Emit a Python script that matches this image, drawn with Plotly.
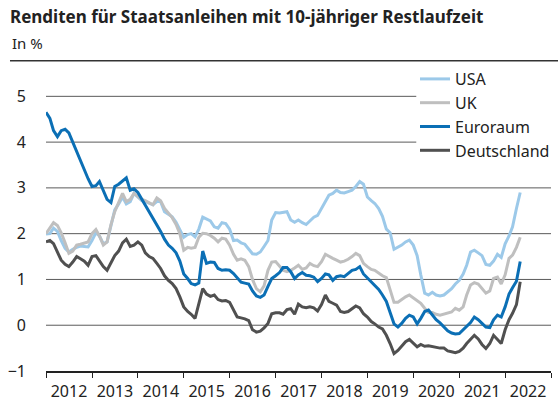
import pandas as pd
import plotly.graph_objects as go

# Monthly yields, Jan 2012 - May 2022 (in %)
months = pd.date_range("2012-01-01", periods=125, freq="MS")

usa = [1.99, 2.00, 2.12, 2.05, 1.85, 1.68, 1.60, 1.66, 1.70, 1.73, 1.72, 1.71,
       1.85, 2.02, 1.95, 1.78, 1.82, 2.20, 2.52, 2.65, 2.80, 2.65, 2.70, 2.88,
       2.80, 2.72, 2.70, 2.66, 2.63, 2.70, 2.70, 2.48, 2.42, 2.37, 2.25, 2.10,
       1.92, 1.98, 2.00, 1.93, 2.10, 2.36, 2.32, 2.28, 2.15, 2.12, 2.24, 2.22,
       2.10, 1.85, 1.86, 1.80, 1.77, 1.65, 1.56, 1.55, 1.60, 1.72, 1.85, 2.30,
       2.46, 2.45, 2.46, 2.48, 2.30, 2.25, 2.30, 2.24, 2.20, 2.28, 2.36, 2.40,
       2.55, 2.70, 2.84, 2.88, 2.95, 2.90, 2.89, 2.92, 2.95, 3.03, 3.14, 3.08,
       2.80, 2.72, 2.66, 2.55, 2.38, 2.10, 2.02, 1.66, 1.70, 1.75, 1.82, 1.86,
       1.75, 1.52, 1.10, 0.70, 0.66, 0.72, 0.66, 0.64, 0.66, 0.72, 0.80, 0.90,
       0.98, 1.12, 1.31, 1.60, 1.64, 1.58, 1.52, 1.33, 1.31, 1.40, 1.55, 1.48,
       1.78, 1.95, 2.15, 2.55, 2.90]

uk = [2.00, 2.12, 2.24, 2.18, 2.02, 1.80, 1.57, 1.62, 1.75, 1.77, 1.79, 1.82,
      2.00, 2.09, 1.95, 1.75, 1.82, 2.20, 2.48, 2.70, 2.88, 2.70, 2.75, 2.88,
      2.82, 2.75, 2.72, 2.68, 2.63, 2.78, 2.72, 2.55, 2.45, 2.35, 2.20, 2.00,
      1.64, 1.70, 1.68, 1.70, 1.92, 2.01, 2.00, 1.96, 1.90, 1.82, 1.90, 1.88,
      1.75, 1.55, 1.42, 1.45, 1.42, 1.28, 1.00, 0.80, 0.73, 0.86, 1.20, 1.38,
      1.39, 1.28, 1.20, 1.17, 1.20, 1.25, 1.31, 1.22, 1.25, 1.35, 1.30, 1.28,
      1.39, 1.55, 1.50, 1.46, 1.42, 1.38, 1.40, 1.44, 1.50, 1.57, 1.52, 1.35,
      1.28, 1.22, 1.20, 1.13, 1.08, 1.04, 0.77, 0.50, 0.50, 0.56, 0.62, 0.66,
      0.60, 0.54, 0.48, 0.37, 0.28, 0.28, 0.24, 0.22, 0.24, 0.27, 0.29, 0.37,
      0.33, 0.40, 0.66, 0.88, 0.93, 0.90, 0.80, 0.70, 0.75, 1.02, 1.05, 0.90,
      1.10, 1.46, 1.53, 1.70, 1.92]

euroraum = [4.65, 4.52, 4.25, 4.12, 4.25, 4.28, 4.20, 4.00, 3.79, 3.58, 3.42, 3.20,
            3.03, 3.05, 3.14, 2.95, 2.75, 2.68, 3.03, 3.08, 3.15, 3.22, 2.95, 2.98,
            2.90, 2.76, 2.62, 2.47, 2.35, 2.20, 2.05, 1.88, 1.75, 1.68, 1.58, 1.40,
            1.12, 1.02, 0.91, 0.88, 0.92, 1.62, 1.35, 1.38, 1.37, 1.24, 1.20, 1.21,
            1.20, 1.13, 1.04, 0.94, 0.92, 0.90, 0.75, 0.64, 0.61, 0.66, 0.85, 1.02,
            1.08, 1.15, 1.26, 1.26, 1.17, 1.02, 1.10, 1.15, 1.09, 1.08, 1.05, 0.95,
            1.02, 1.12, 1.10, 0.98, 1.06, 1.08, 1.06, 1.12, 1.20, 1.22, 1.28, 1.12,
            1.03, 0.93, 0.85, 0.78, 0.66, 0.52, 0.28, 0.03, -0.04, 0.04, 0.15, 0.22,
            0.18, 0.03, 0.15, 0.30, 0.33, 0.22, 0.12, 0.05, -0.04, -0.12, -0.17, -0.19,
            -0.18, -0.10, -0.02, 0.06, 0.18, 0.12, 0.04, -0.04, -0.05, 0.12, 0.22, 0.18,
            0.40, 0.68, 0.82, 0.96, 1.39]

deutschland = [1.82, 1.85, 1.78, 1.58, 1.42, 1.33, 1.28, 1.38, 1.50, 1.45, 1.40, 1.31,
               1.50, 1.52, 1.40, 1.28, 1.20, 1.35, 1.52, 1.62, 1.80, 1.88, 1.72, 1.75,
               1.82, 1.75, 1.58, 1.50, 1.46, 1.35, 1.24, 1.08, 0.98, 0.91, 0.80, 0.62,
               0.40, 0.30, 0.24, 0.15, 0.50, 0.80, 0.68, 0.63, 0.66, 0.56, 0.53, 0.54,
               0.50, 0.32, 0.18, 0.16, 0.14, 0.10, -0.10, -0.15, -0.13, -0.06, 0.04, 0.25,
               0.27, 0.27, 0.24, 0.34, 0.36, 0.24, 0.46, 0.40, 0.38, 0.40, 0.38, 0.31,
               0.45, 0.66, 0.52, 0.48, 0.44, 0.30, 0.28, 0.30, 0.36, 0.42, 0.38, 0.25,
               0.18, 0.08, 0.03, -0.04, -0.08, -0.22, -0.40, -0.62, -0.55, -0.45, -0.36, -0.31,
               -0.40, -0.47, -0.42, -0.46, -0.45, -0.47, -0.49, -0.50, -0.50, -0.56, -0.58, -0.60,
               -0.57, -0.50, -0.40, -0.30, -0.22, -0.30, -0.42, -0.51, -0.40, -0.22, -0.30, -0.40,
               -0.10, 0.12, 0.26, 0.45, 0.95]

y_ticks = [-1, 0, 1, 2, 3, 4, 5]

FONT = "Noto Sans, sans-serif"

fig = go.Figure()

series = [
    ("USA", usa, "#9cc9e9"),
    ("UK", uk, "#bfbfbf"),
    ("Euroraum", euroraum, "#0b6fb5"),
    ("Deutschland", deutschland, "#505050"),
]
for name, vals, color in series:
    fig.add_trace(go.Scatter(x=months, y=vals, mode="lines", name=name,
                             line=dict(color=color, width=3)))

# gridlines (the two top ones stop short of the legend)
for v in y_ticks[1:]:
    fig.add_shape(type="line", xref="x", yref="y", layer="below",
                  x0="2011-12-20", x1="2023-01-01" if v < 4 else "2020-01-25",
                  y0=v, y1=v, line=dict(color="#5a5a5a", width=1))

# rule under the header
fig.add_shape(type="line", xref="paper", yref="paper",
              x0=-0.0713, x1=1.02, y0=1.004, y1=1.004,
              line=dict(color="#333333", width=1.5))

fig.add_annotation(text="In %", xref="paper", yref="paper", x=-0.0713, y=1.062,
                   xanchor="left", yanchor="middle", showarrow=False,
                   font=dict(size=15, color="#222222", family=FONT))

fig.update_layout(
    width=558, height=401,
    margin=dict(l=46, r=7, t=62, b=30, autoexpand=False),
    paper_bgcolor="white", plot_bgcolor="white",
    font=dict(family=FONT, size=16, color="#222222"),
    title=dict(text="<b>Renditen für Staatsanleihen mit 10-jähriger Restlaufzeit</b>",
               x=10 / 558, xanchor="left", xref="container",
               y=1 - 17 / 401, yanchor="middle", yref="container",
               font=dict(size=17, color="#222222", family=FONT)),
    showlegend=True,
    legend=dict(x=0.7307, y=1.0, xanchor="left", yanchor="top",
                bgcolor="rgba(0,0,0,0)", font=dict(size=16, color="#222222")),
    xaxis=dict(range=["2012-01-01", "2023-01-01"], type="date",
               tick0="2012-01-01", dtick="M12", tickformat="%Y",
               ticklabelmode="period", ticks="outside", ticklen=5, tickangle=0,
               tickcolor="#222222", showline=True, linecolor="#222222",
               linewidth=1.5, showgrid=False, zeroline=False, automargin=False),
    yaxis=dict(range=[-1, 5.75], tickvals=y_ticks, showgrid=False,
               zeroline=False, ticks="", ticklabelstandoff=19, automargin=False),
)

fig.write_html("out.html", config={"displayModeBar": False},
               post_script="document.body.style.margin = '0';")
